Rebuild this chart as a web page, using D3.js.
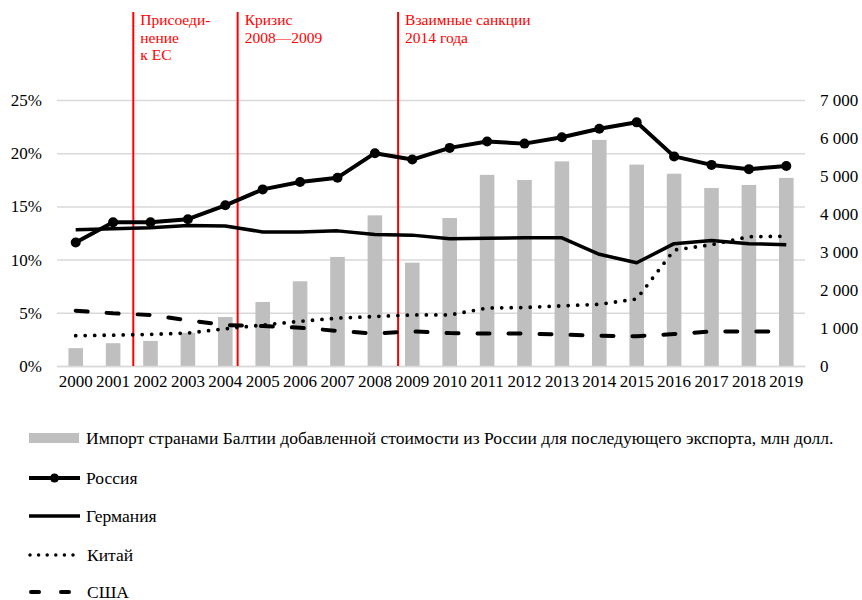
<!DOCTYPE html>
<html>
<head>
<meta charset="utf-8">
<script src="https://cdn.jsdelivr.net/npm/d3@7"></script>
</head>
<body style="margin:0">
<div id="chart"></div>
<script>
// Data
const years = d3.range(2000, 2020);
const imports = [470, 600, 660, 875, 1290, 1685, 2230, 2870, 3965, 2720,
  3895, 5030, 4895, 5385, 5950, 5300, 5060, 4685, 4765, 4950];
const russia = [11.6, 13.5, 13.5, 13.8, 15.1, 16.6, 17.3, 17.7, 20.0, 19.4,
  20.5, 21.1, 20.9, 21.5, 22.3, 22.9, 19.7, 18.9, 18.5, 18.8];
const germany = [12.8, 12.9, 13.0, 13.2, 13.15, 12.6, 12.6, 12.7, 12.35, 12.3,
  11.95, 12.0, 12.05, 12.05, 10.5, 9.7, 11.5, 11.8, 11.5, 11.4];
const china = [2.85, 2.9, 2.97, 3.1, 3.5, 3.85, 4.2, 4.5, 4.65, 4.8,
  4.8, 5.45, 5.5, 5.65, 5.8, 6.3, 10.9, 11.4, 12.15, 12.2];
const usa = [5.2, 4.95, 4.8, 4.3, 3.85, 3.75, 3.6, 3.3, 3.05, 3.25,
  3.1, 3.05, 3.05, 2.95, 2.85, 2.8, 3.0, 3.25, 3.25, 3.25];
const leftTicks = [0, 5, 10, 15, 20, 25];
const rightTicks = [0, 1000, 2000, 3000, 4000, 5000, 6000, 7000];

// events: position in year units (lines sit between year bands)
const eventPos = [2001.54, 2004.33, 2008.62];
const eventText = [["Присоеди-", "нение", "к ЕС"], ["Кризис", "2008—2009"], ["Взаимные санкции", "2014 года"]];

const legendLabels = [
  "Импорт странами Балтии добавленной стоимости из России для последующего экспорта, млн долл.",
  "Россия", "Германия", "Китай", "США"
];

const FONT = 'Liberation Serif';
const width = 862, height = 600;
const plotLeft = 57, plotRight = 805, plotTop = 100, plotBottom = 366;

const svg = d3.select('#chart').append('svg')
  .attr('width', width)
  .attr('height', height)
  .attr('font-family', FONT);

// set the serif face both ways on every text
const serif = sel => sel.attr('font-family', FONT).style('font-family', `"${FONT}"`);

const x = d3.scaleBand()
  .domain(years)
  .range([plotLeft, plotRight])
  .paddingInner(0.61)
  .paddingOuter(0.305);

const xCenter = d => x(d) + x.bandwidth() / 2;
// continuous year scale for event lines
const xYear = d3.scaleLinear()
  .domain([2000, 2019])
  .range([xCenter(2000), xCenter(2019)]);

const yL = d3.scaleLinear().domain([0, 25]).range([plotBottom, plotTop]);
const yR = d3.scaleLinear().domain([0, 7000]).range([plotBottom, plotTop]);

const styleTicks = g => {
  g.attr('font-family', FONT);
  g.selectAll('text').call(serif).attr('font-size', 17).attr('fill', '#000');
};

// gridlines
svg.append('g')
  .attr('transform', `translate(${plotLeft},0)`)
  .call(d3.axisLeft(yL).tickValues(leftTicks).tickSize(-(plotRight - plotLeft)).tickFormat(''))
  .call(g => g.select('.domain').remove())
  .call(g => g.selectAll('line').attr('stroke', '#d9d9d9').attr('stroke-width', 1.5));

// left axis labels
svg.append('g')
  .attr('transform', `translate(${plotLeft},0)`)
  .call(d3.axisLeft(yL).tickValues(leftTicks).tickSize(0).tickPadding(15).tickFormat(d => d + '%'))
  .call(g => g.select('.domain').remove())
  .call(styleTicks);

// right axis labels
svg.append('g')
  .attr('transform', `translate(${plotRight},0)`)
  .call(d3.axisRight(yR).tickValues(rightTicks).tickSize(0).tickPadding(15)
    .tickFormat(d => d3.format(',')(d).replace(',', '\u00a0')))
  .call(g => g.select('.domain').remove())
  .call(styleTicks);

// bars
svg.append('g').selectAll('rect')
  .data(years)
  .join('rect')
  .attr('x', d => x(d))
  .attr('width', x.bandwidth())
  .attr('y', (d, i) => yR(imports[i]))
  .attr('height', (d, i) => plotBottom - yR(imports[i]))
  .attr('fill', '#bfbfbf');

// x axis
svg.append('g')
  .attr('transform', `translate(0,${plotBottom})`)
  .call(d3.axisBottom(x).tickSize(0).tickPadding(9))
  .call(g => g.select('.domain').attr('stroke', '#d9d9d9').attr('stroke-width', 1.5))
  .call(styleTicks);

// event lines and notes
eventPos.forEach((p, i) => {
  svg.append('line')
    .attr('x1', xYear(p)).attr('x2', xYear(p))
    .attr('y1', 12).attr('y2', plotBottom)
    .attr('stroke', '#ff0000').attr('stroke-width', 2);
  eventText[i].forEach((s, j) => {
    svg.append('text')
      .attr('x', xYear(p) + 7)
      .attr('y', 25 + j * 17.5)
      .call(serif)
      .attr('font-size', 15.5)
      .attr('fill', '#ff0000')
      .text(s);
  });
});

const line = d3.line().x((d, i) => xCenter(years[i])).y(d => yL(d));

const seriesStyle = [
  { data: germany, width: 3.5, dash: null },
  { data: china, width: 3.8, dash: '0,9.5' },
  { data: usa, width: 4, dash: '12,19' },
  { data: russia, width: 4, dash: null }
];

seriesStyle.forEach(s => {
  svg.append('path')
    .datum(s.data)
    .attr('d', line)
    .attr('fill', 'none')
    .attr('stroke', '#000')
    .attr('stroke-width', s.width)
    .attr('stroke-linecap', s.dash ? 'round' : 'butt')
    .attr('stroke-linejoin', 'round')
    .attr('stroke-dasharray', s.dash);
});

svg.append('g').selectAll('circle')
  .data(russia)
  .join('circle')
  .attr('cx', (d, i) => xCenter(years[i]))
  .attr('cy', d => yL(d))
  .attr('r', 5)
  .attr('fill', '#000');

// legend
const legendY = [438, 478, 516, 555, 592];
const lg = svg.append('g');
lg.append('rect').attr('x', 29).attr('y', legendY[0] - 5).attr('width', 50).attr('height', 10).attr('fill', '#bfbfbf');
lg.append('line').attr('x1', 29).attr('x2', 80).attr('y1', legendY[1]).attr('y2', legendY[1])
  .attr('stroke', '#000').attr('stroke-width', 4);
lg.append('circle').attr('cx', 54.5).attr('cy', legendY[1]).attr('r', 4.5).attr('fill', '#000');
lg.append('line').attr('x1', 29).attr('x2', 80).attr('y1', legendY[2]).attr('y2', legendY[2])
  .attr('stroke', '#000').attr('stroke-width', 3.5);
lg.append('line').attr('x1', 30).attr('x2', 76).attr('y1', legendY[3]).attr('y2', legendY[3])
  .attr('stroke', '#000').attr('stroke-width', 3.5).attr('stroke-linecap', 'round')
  .attr('stroke-dasharray', '0,8.6');
lg.append('line').attr('x1', 31).attr('x2', 78).attr('y1', legendY[4]).attr('y2', legendY[4])
  .attr('stroke', '#000').attr('stroke-width', 4).attr('stroke-linecap', 'round')
  .attr('stroke-dasharray', '8,22');

const legendText = lg.selectAll('text')
  .data(legendLabels)
  .join('text')
  .call(serif)
  .attr('font-size', 16.5)
  .attr('fill', '#000')
  .text(d => d);

// the reference sets the legend wider than the font's natural width:
// stretch so the long label spans to x = 834
const naturalW = legendText.node().getComputedTextLength();
const sx = Math.min(1.25, 748 / naturalW);
legendText.attr('transform', (d, i) =>
  `translate(${i === 3 || i === 4 ? 87 : 86},${legendY[i] + 5.5}) scale(${sx},1)`);
</script>
</body>
</html>
